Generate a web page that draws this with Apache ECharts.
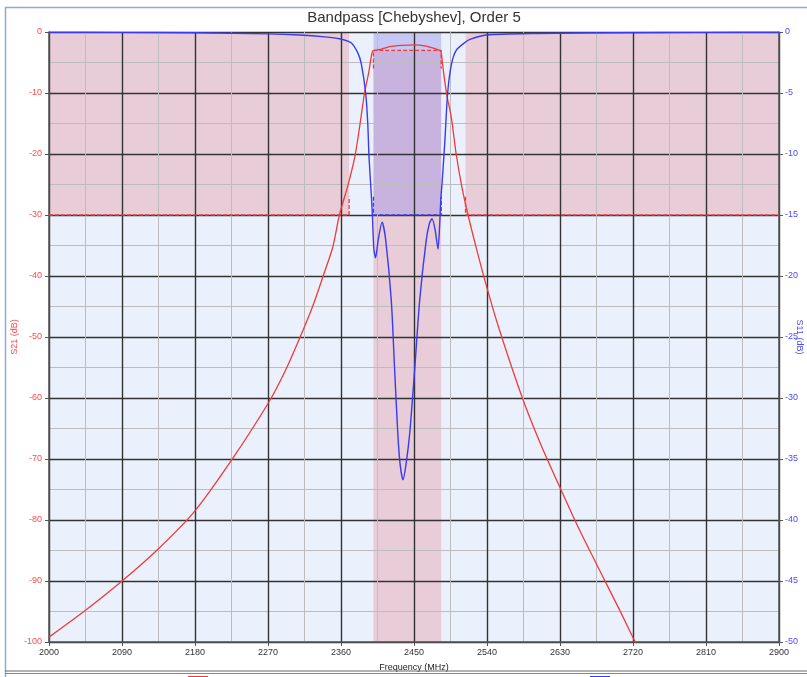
<!DOCTYPE html>
<html>
<head>
<meta charset="utf-8">
<script src="https://cdn.jsdelivr.net/npm/echarts@6/dist/echarts.min.js"></script>
<style>
html,body{margin:0;padding:0;background:#fff;}
#chart{width:807px;height:677px;}
</style>
</head>
<body>
<div id="chart"></div>
<script>
// ---- Data ----
const titleText = 'Bandpass [Chebyshev], Order 5';
const xTicks = [2000, 2090, 2180, 2270, 2360, 2450, 2540, 2630, 2720, 2810, 2900];

// S21 (dB) — left axis
const s21Freq = [2000, 2045, 2090, 2135, 2180, 2225, 2270, 2290, 2309, 2325, 2338, 2350, 2358, 2368, 2377, 2383, 2389, 2394, 2398.7, 2403, 2410, 2420, 2435, 2450, 2465, 2475, 2483, 2485, 2490, 2496, 2502, 2509, 2516.6, 2527, 2538.4, 2555, 2583.6, 2605, 2628, 2655, 2685.1, 2704, 2722, 2732];
const s21Vals = [-99.2, -94.8, -90.0, -84.7, -78.5, -70.2, -60.9, -55.9, -50.2, -45.0, -40.0, -35.2, -30.0, -25.4, -20.5, -15.5, -10.0, -6.8, -3.2, -3.0, -2.8, -2.4, -2.2, -2.1, -2.3, -2.7, -3.2, -5.1, -10.0, -14.0, -20.0, -25.4, -30.0, -35.5, -41.2, -48.7, -60.0, -67.2, -74.1, -81.9, -89.9, -94.9, -99.8, -102.3];

// S11 (dB) — right axis
const s11Freq = [2000, 2090, 2180, 2270, 2309, 2340, 2358, 2372.8, 2381, 2385, 2390.4, 2393, 2394.5, 2397.5, 2398.7, 2400.5, 2402.6, 2406, 2410.6, 2415, 2422, 2426, 2430, 2433, 2436.5, 2440, 2444.7, 2451, 2457, 2465, 2469, 2472.2, 2476, 2479.6, 2481.5, 2483, 2485, 2488, 2491.5, 2496, 2502, 2514, 2519, 2539, 2600, 2700, 2800, 2900];
const s11Vals = [-0.02, -0.03, -0.06, -0.15, -0.25, -0.4, -0.55, -0.9, -1.75, -2.6, -5.0, -7.5, -10.2, -13.5, -15.0, -17.8, -18.5, -17.0, -15.6, -17.0, -22.0, -27.5, -32.9, -35.5, -36.7, -35.5, -32.9, -27.5, -22.0, -17.1, -15.7, -15.3, -16.2, -17.8, -16.0, -13.8, -12.0, -9.0, -5.0, -2.7, -1.5, -0.8, -0.6, -0.25, -0.12, -0.06, -0.03, -0.02];

// Mask specification
const passband = [2400, 2483.5];
const stopbandEdges = [2370, 2513.5];
const s21PassLimit = -3;
const s21StopLimit = -30;
const s11Limit = -15;

// ---- Build chart ----
const xMin = 2000, xMax = 2900;
const yMin = -100, yMax = 0;
const s11Min = -50;
const s11ToS21 = v => v * (yMin / s11Min);

const cBg = '#eaf1fc', cPink = '#e8ccd8', cLav = '#c6c8f3', cPurple = '#c8b3df';
const redC = '#f03a3a', blueC = '#3a3af0';

const areas = [
  [{xAxis: xMin, yAxis: yMax, itemStyle:{color:cBg}}, {xAxis: xMax, yAxis: yMin}],
  [{xAxis: xMin, yAxis: yMax, itemStyle:{color:cPink}}, {xAxis: stopbandEdges[0], yAxis: s21StopLimit}],
  [{xAxis: stopbandEdges[1], yAxis: yMax, itemStyle:{color:cPink}}, {xAxis: xMax, yAxis: s21StopLimit}],
  [{xAxis: passband[0], yAxis: yMax, itemStyle:{color:cLav}}, {xAxis: passband[1], yAxis: s21PassLimit}],
  [{xAxis: passband[0], yAxis: s21PassLimit, itemStyle:{color:cPurple}}, {xAxis: passband[1], yAxis: s11ToS21(s11Limit)}],
  [{xAxis: passband[0], yAxis: s11ToS21(s11Limit), itemStyle:{color:cPink}}, {xAxis: passband[1], yAxis: yMin}]
];

const tickLen = 3;
const s21MaskData = [
  [xMin, s21StopLimit], [stopbandEdges[0], s21StopLimit], [stopbandEdges[0], s21StopLimit + tickLen], [null, null],
  [stopbandEdges[1], s21StopLimit + tickLen], [stopbandEdges[1], s21StopLimit], [xMax, s21StopLimit], [null, null],
  [passband[0], s21PassLimit - tickLen], [passband[0], s21PassLimit], [passband[1], s21PassLimit], [passband[1], s21PassLimit - tickLen]
];
const s11MaskData = [
  [passband[0], s11Limit + tickLen/2], [passband[0], s11Limit], [passband[1], s11Limit], [passband[1], s11Limit + tickLen/2]
];

const s21Data = s21Freq.map((f, i) => [f, s21Vals[i]]);
const s11Data = s11Freq.map((f, i) => [f, s11Vals[i]]);

const chart = echarts.init(document.getElementById('chart'), null, {renderer: 'canvas'});
const fontFam = 'Liberation Sans, Arial, sans-serif';
const ZL = 1;

chart.setOption({
  animation: false,
  backgroundColor: '#fff',
  grid: {left: 49, right: 28, top: 32, bottom: 35, show: false, containLabel: false, outerBoundsMode: 'none'},
  xAxis: {
    type: 'value', min: xMin, max: xMax, interval: 90, zlevel: ZL,
    name: 'Frequency (MHz)', nameLocation: 'middle', nameGap: 21, nameMoveOverlap: false,
    nameTextStyle: {color: '#222', fontSize: 9, fontFamily: fontFam},
    axisLine: {show: true, onZero: false, lineStyle: {color: '#555', width: 1.5}},
    axisTick: {show: true, length: 4, lineStyle: {color: '#555'}},
    axisLabel: {color: '#333', fontSize: 9, fontFamily: fontFam, margin: 6, formatter: v => String(v)},
    splitLine: {show: true, lineStyle: {color: '#333', width: 1.4}},
    minorTick: {show: false, splitNumber: 2},
    minorSplitLine: {show: true, lineStyle: {color: '#bdbdbd', width: 1}}
  },
  yAxis: [
    {
      type: 'value', min: yMin, max: yMax, interval: 10, zlevel: ZL,
      name: 'S21 (dB)', nameLocation: 'middle', nameGap: 30, nameRotate: 90, nameMoveOverlap: false,
      nameTextStyle: {color: '#ff4a4a', fontSize: 9, fontFamily: fontFam},
      axisLine: {show: true, onZero: false, lineStyle: {color: '#555', width: 1.5}},
      axisTick: {show: true, length: 4, lineStyle: {color: '#555'}},
      axisLabel: {color: '#ff4a4a', fontSize: 9, fontFamily: fontFam, margin: 7},
      splitLine: {show: true, lineStyle: {color: '#333', width: 1.4}},
      minorTick: {show: false, splitNumber: 2},
      minorSplitLine: {show: true, lineStyle: {color: '#bdbdbd', width: 1}}
    },
    {
      type: 'value', min: s11Min, max: 0, interval: 5, zlevel: ZL, position: 'right',
      name: 'S11 (dB)', nameLocation: 'middle', nameGap: 16, nameRotate: -90, nameMoveOverlap: false,
      nameTextStyle: {color: '#4a4aff', fontSize: 9, fontFamily: fontFam},
      axisLine: {show: true, onZero: false, lineStyle: {color: '#555', width: 1.5}},
      axisTick: {show: true, length: 4, lineStyle: {color: '#555'}},
      axisLabel: {color: '#4a4aff', fontSize: 9, fontFamily: fontFam, margin: 6},
      splitLine: {show: false}
    }
  ],
  series: [
    {
      name: 'areas', type: 'line', zlevel: 0, z: 0, silent: true, symbol: 'none',
      data: [[xMin, yMin], [xMax, yMin]], lineStyle: {opacity: 0},
      markArea: {silent: true, zlevel: 0, z: 0, data: areas}
    },
    {
      name: 'S21 mask', type: 'line', zlevel: ZL, z: 4, yAxisIndex: 0, symbol: 'none', silent: true,
      connectNulls: false, data: s21MaskData,
      lineStyle: {color: redC, width: 1.3, type: [4, 2]}
    },
    {
      name: 'S11 mask', type: 'line', zlevel: ZL, z: 4, yAxisIndex: 1, symbol: 'none', silent: true,
      connectNulls: false, data: s11MaskData,
      lineStyle: {color: blueC, width: 1.3, type: [4, 2]}
    },
    {
      name: 'S21', type: 'line', zlevel: ZL, z: 5, yAxisIndex: 0, symbol: 'none', smooth: 0.25,
      data: s21Data, clip: true,
      lineStyle: {color: redC, width: 1.3}
    },
    {
      name: 'S11', type: 'line', zlevel: ZL, z: 5, yAxisIndex: 1, symbol: 'none', smooth: 0.25,
      data: s11Data, clip: true,
      lineStyle: {color: blueC, width: 1.4}
    }
  ],
  graphic: [
    {type: 'text', zlevel: ZL, x: 414, y: 18, z: 10, style: {text: titleText, fill: '#333', font: '15px ' + fontFam, textAlign: 'center', textVerticalAlign: 'middle'}},
    {type: 'line', zlevel: ZL, z: 10, shape: {x1: 5, y1: 7.5, x2: 807, y2: 7.5}, style: {stroke: '#8ea8da', lineWidth: 1.5}},
    {type: 'line', zlevel: ZL, z: 10, shape: {x1: 5.5, y1: 7, x2: 5.5, y2: 677}, style: {stroke: '#8ea8da', lineWidth: 1.5}},
    {type: 'line', zlevel: ZL, z: 10, shape: {x1: 5, y1: 671, x2: 807, y2: 671}, style: {stroke: '#666', lineWidth: 1}},
    {type: 'line', zlevel: ZL, z: 10, shape: {x1: 5, y1: 673.5, x2: 807, y2: 673.5}, style: {stroke: '#888', lineWidth: 1}},
    {type: 'line', zlevel: ZL, z: 10, shape: {x1: 188, y1: 677, x2: 208, y2: 677}, style: {stroke: redC, lineWidth: 2}},
    {type: 'text', zlevel: ZL, x: 212, y: 676, z: 10, style: {text: 'S21', fill: redC, font: '8px ' + fontFam}},
    {type: 'line', zlevel: ZL, z: 10, shape: {x1: 590, y1: 677, x2: 610, y2: 677}, style: {stroke: blueC, lineWidth: 2}},
    {type: 'text', zlevel: ZL, x: 614, y: 676, z: 10, style: {text: 'S11', fill: blueC, font: '8px ' + fontFam}}
  ]
});
</script>
</body>
</html>
